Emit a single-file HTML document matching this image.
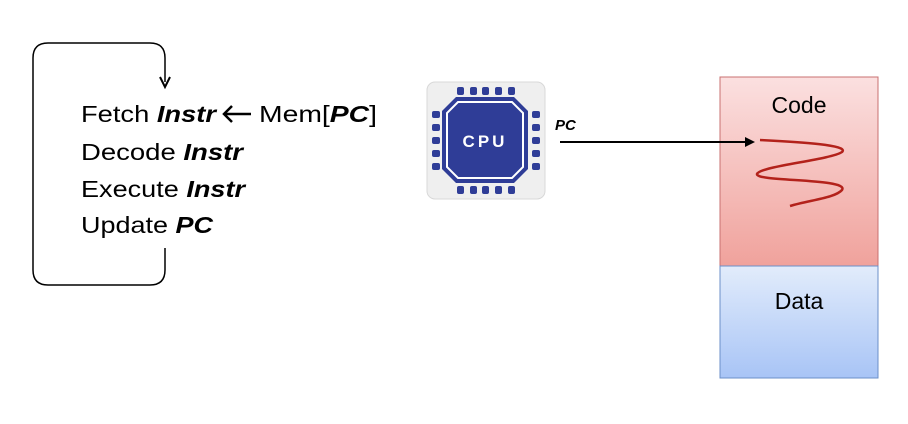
<!DOCTYPE html>
<html><head><style>html,body{margin:0;padding:0;background:#fff}svg{display:block}</style></head><body>
<svg width="908" height="424" viewBox="0 0 908 424" xmlns="http://www.w3.org/2000/svg" font-family="'Liberation Sans', sans-serif">
<defs>
<linearGradient id="gc" x1="0" y1="0" x2="0" y2="1"><stop offset="0" stop-color="#fbe0e0"/><stop offset="1" stop-color="#f0a29c"/></linearGradient>
<linearGradient id="gd" x1="0" y1="0" x2="0" y2="1"><stop offset="0" stop-color="#e2ecfb"/><stop offset="1" stop-color="#a8c4f6"/></linearGradient>
</defs>
<!-- loop -->
<path d="M165 248 V270 Q165 285 150 285 H48 Q33 285 33 270 V58 Q33 43 48 43 H150 Q165 43 165 58 V82" fill="none" stroke="#000" stroke-width="1.5"/>
<path d="M160 77 L165 87 L170 77" fill="none" stroke="#000" stroke-width="2"/>
<g font-size="23" fill="#000">
<text x="81" y="122" textLength="135" lengthAdjust="spacingAndGlyphs">Fetch <tspan font-weight="bold" font-style="italic">Instr</tspan></text>
<text x="259" y="122" textLength="118" lengthAdjust="spacingAndGlyphs">Mem[<tspan font-weight="bold" font-style="italic">PC</tspan>]</text>
<text x="81" y="160" textLength="162" lengthAdjust="spacingAndGlyphs">Decode <tspan font-weight="bold" font-style="italic">Instr</tspan></text>
<text x="81" y="197" textLength="164" lengthAdjust="spacingAndGlyphs">Execute <tspan font-weight="bold" font-style="italic">Instr</tspan></text>
<text x="81" y="233" textLength="132" lengthAdjust="spacingAndGlyphs">Update <tspan font-weight="bold" font-style="italic">PC</tspan></text>
</g>
<path d="M224 114 H251 M232 106 L224 114 L232 122" fill="none" stroke="#000" stroke-width="2.5"/>
<!-- CPU icon -->
<rect x="427" y="82" width="118" height="117" rx="8" fill="#efefef" stroke="#d8d8d8"/>
<g fill="#2f3d97">
<rect x="457" y="87" width="7" height="8" rx="2"/><rect x="470" y="87" width="7" height="8" rx="2"/><rect x="482" y="87" width="7" height="8" rx="2"/><rect x="495" y="87" width="7" height="8" rx="2"/><rect x="508" y="87" width="7" height="8" rx="2"/>
<rect x="457" y="186" width="7" height="8" rx="2"/><rect x="470" y="186" width="7" height="8" rx="2"/><rect x="482" y="186" width="7" height="8" rx="2"/><rect x="495" y="186" width="7" height="8" rx="2"/><rect x="508" y="186" width="7" height="8" rx="2"/>
<rect x="432" y="111" width="8" height="7" rx="2"/><rect x="432" y="124" width="8" height="7" rx="2"/><rect x="432" y="137" width="8" height="7" rx="2"/><rect x="432" y="150" width="8" height="7" rx="2"/><rect x="432" y="163" width="8" height="7" rx="2"/>
<rect x="532" y="111" width="8" height="7" rx="2"/><rect x="532" y="124" width="8" height="7" rx="2"/><rect x="532" y="137" width="8" height="7" rx="2"/><rect x="532" y="150" width="8" height="7" rx="2"/><rect x="532" y="163" width="8" height="7" rx="2"/>
<polygon points="456,97 514,97 528,111 528,169 514,183 456,183 442,169 442,111"/>
</g>
<polygon points="458,102 512,102 523,113 523,167 512,178 458,178 447,167 447,113" fill="none" stroke="#fff" stroke-width="2"/>
<text x="485" y="147" font-size="17" font-weight="bold" fill="#fff" text-anchor="middle" letter-spacing="3">CPU</text>
<!-- memory -->
<rect x="720" y="77" width="158" height="189" fill="url(#gc)" stroke="#c87070" stroke-width="1"/>
<rect x="720" y="266" width="158" height="112" fill="url(#gd)" stroke="#6b8fc8" stroke-width="1"/>
<text x="799" y="113" font-size="23" text-anchor="middle">Code</text>
<text x="799" y="309" font-size="23" text-anchor="middle">Data</text>
<path d="M760 140 C800 142 850 145 842 152 C830 160 760 166 757 174 C755 182 850 178 842 190 C835 198 810 200 790 206" fill="none" stroke="#b3221b" stroke-width="2.5"/>
<!-- PC arrow -->
<text x="555" y="130" font-size="15" font-weight="bold" font-style="italic">PC</text>
<line x1="560" y1="142" x2="748" y2="142" stroke="#000" stroke-width="2"/>
<path d="M745 137 L755 142 L745 147 Z" fill="#000"/>
</svg>
</body></html>
